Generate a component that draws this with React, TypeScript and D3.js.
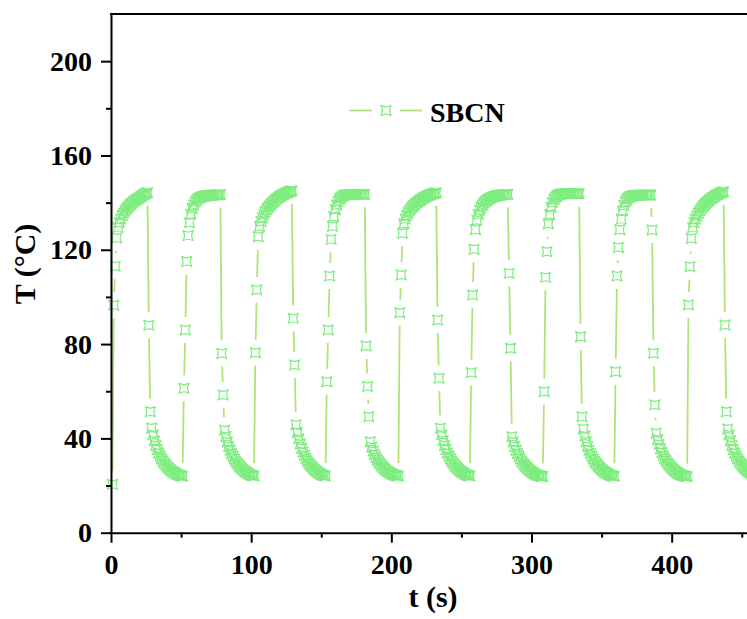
import React, { useEffect, useRef } from 'react';
import * as d3 from 'd3';

const WIDTH = 747;
const HEIGHT = 619;

// one reading per second, first reading at t = 1 s
const startTime = 1;
const sampleStep = 1;

// heating / cooling halves of each cycle (T in °C)
const heating1 = [20.5, 96.5, 113, 125, 129.5, 131.5, 133, 134.5, 135.5, 136.5, 137.3, 138, 138.7, 139.3, 139.8, 140.3, 140.8, 141.2, 141.6, 142, 142.4, 142.8, 143.2, 143.6, 144, 144.2];
const cooling1 = [88, 51.3, 44.4, 41.5, 39, 37, 35.3, 33.8, 32.5, 31.4, 30.4, 29.5, 28.7, 28, 27.4, 26.8, 26.3, 25.9, 25.5, 25.1, 24.8, 24.5, 24.3, 24.1, 23.9];
const heating2 = [61.3, 86, 115, 126, 131.5, 135, 137.5, 139, 140.2, 141, 141.6, 142, 142.3, 142.5, 142.7, 142.8, 142.9, 143, 143, 143.1, 143.1, 143.2, 143.2, 143.3, 143.3, 143.3, 143.4];
const cooling2 = [76, 58.4, 43.5, 40.8, 38.5, 36.6, 35, 33.6, 32.4, 31.3, 30.3, 29.4, 28.7, 28, 27.4, 26.8, 26.3, 25.8, 25.4, 25, 24.7, 24.4, 24.2, 24];
const heating3 = [76.3, 103, 125.5, 130, 132, 133.5, 134.8, 136, 137, 137.8, 138.5, 139.2, 139.8, 140.4, 141, 141.5, 142, 142.4, 142.8, 143.2, 143.5, 143.8, 144.1, 144.4, 144.6, 144.8, 145];
const cooling3 = [90.9, 71.1, 45.7, 42.5, 39.8, 37.6, 35.8, 34.2, 32.8, 31.6, 30.5, 29.6, 28.8, 28.1, 27.4, 26.8, 26.3, 25.8, 25.4, 25, 24.7, 24.4, 24.2, 24];
const heating4 = [64, 86, 108.9, 124.4, 130, 134, 137, 139, 140.5, 141.5, 142.2, 142.7, 143, 143.2, 143.3, 143.3, 143.3, 143.4, 143.4, 143.4, 143.4, 143.5, 143.5, 143.5, 143.5, 143.5, 143.5, 143.5];
const cooling4 = [79.2, 62, 49.2, 38.6, 36.3, 34.6, 33.2, 32, 30.9, 30, 29.2, 28.4, 27.7, 27.1, 26.6, 26.1, 25.7, 25.3, 25, 24.7, 24.5, 24.3, 24.1, 24];
const heating5 = [93.3, 109.3, 127, 131, 133, 134.5, 135.7, 136.7, 137.5, 138.2, 138.8, 139.4, 139.9, 140.4, 140.8, 141.2, 141.6, 142, 142.3, 142.6, 142.9, 143.2, 143.4, 143.6, 143.8, 144, 144.2];
const cooling5 = [90.2, 65.5, 44.3, 41.5, 39, 37, 35.3, 33.8, 32.5, 31.4, 30.4, 29.5, 28.7, 28, 27.4, 26.8, 26.3, 25.8, 25.4, 25, 24.7, 24.4, 24.2, 24];
const heating6 = [67.9, 100.8, 120.2, 128.5, 132.5, 135, 136.8, 138, 139, 139.8, 140.4, 140.9, 141.3, 141.7, 142, 142.3, 142.5, 142.7, 142.9, 143, 143.1, 143.2, 143.3, 143.4, 143.5, 143.5, 143.5];
const cooling6 = [110, 78.2, 40.7, 38.5, 36.6, 35, 33.6, 32.4, 31.3, 30.3, 29.4, 28.7, 28, 27.4, 26.8, 26.3, 25.8, 25.4, 25, 24.7, 24.4, 24.2, 24, 23.9, 23.8];
const heating7 = [59.8, 108.3, 119.2, 131, 135, 138, 140, 141.3, 142.2, 142.8, 143.2, 143.5, 143.6, 143.7, 143.7, 143.8, 143.8, 143.8, 143.8, 143.8, 143.8, 143.8, 143.8, 143.8, 143.8, 143.8];
const cooling7 = [83.1, 49.2, 44, 41, 38.6, 36.6, 35, 33.6, 32.4, 31.3, 30.3, 29.4, 28.7, 28, 27.4, 26.8, 26.3, 25.8, 25.4, 25, 24.7, 24.4, 24.2, 24, 23.9];
const heating8 = [68.3, 108.9, 121, 128.5, 133, 136.5, 138.8, 140.3, 141.3, 142, 142.4, 142.7, 142.9, 143, 143, 143.1, 143.1, 143.1, 143.2, 143.2, 143.2, 143.2, 143.2, 143.2, 143.2, 143.2];
const cooling8 = [128.4, 76.1, 54.2, 42.2, 39.5, 37.4, 35.6, 34, 32.7, 31.5, 30.5, 29.6, 28.8, 28.1, 27.4, 26.8, 26.3, 25.8, 25.4, 25, 24.7, 24.4, 24.2, 24, 23.9, 23.8];
const heating9 = [96.6, 112.8, 124.8, 129.5, 131.5, 133, 134.3, 135.5, 136.5, 137.4, 138.2, 138.9, 139.5, 140.1, 140.6, 141.1, 141.6, 142, 142.4, 142.8, 143.2, 143.5, 143.8, 144.1, 144.4, 144.6];
const cooling9 = [88.1, 51.3, 44, 41.5, 39, 37, 35.3, 33.8, 32.5, 31.4, 30.4, 29.5, 28.7, 28, 27.4, 26.8, 26.3, 25.8, 25.4, 25, 24.7, 24.4, 24.2];

const temperature = [
  ...heating1, ...cooling1, ...heating2, ...cooling2, ...heating3, ...cooling3,
  ...heating4, ...cooling4, ...heating5, ...cooling5, ...heating6, ...cooling6,
  ...heating7, ...cooling7, ...heating8, ...cooling8, ...heating9, ...cooling9,
];

const xTicks = [0, 100, 200, 300, 400];
const xMinorTicks = [50, 150, 250, 350, 450];
const yTicks = [0, 40, 80, 120, 160, 200];
const yMinorTicks = [20, 60, 100, 140, 180];
const seriesName = 'SBCN';

const FONT = '"Liberation Serif", "Times New Roman", serif';
const LINE_COLOR = '#b3e27a';
const SYMBOL_COLOR = '#7eec7e';
const GAP = 13; // line gap around each symbol

// rounded square with small corner points (origin style symbol)
const symbolPath =
  'M-5.2,-5.2 A10,10 0 0 0 5.2,-5.2 A10,10 0 0 0 5.2,5.2 A10,10 0 0 0 -5.2,5.2 A10,10 0 0 0 -5.2,-5.2 Z';

export default function App() {
  const ref = useRef<SVGSVGElement | null>(null);

  useEffect(() => {
    const svg = d3.select(ref.current);
    svg.selectAll('*').remove();

    const x = d3.scaleLinear().domain([0, 460]).range([111, 111 + 460 * 1.4017]);
    const y = d3.scaleLinear().domain([0, 220]).range([532.7, 14]);

    const points = temperature.map((v, i) => ({ t: startTime + i * sampleStep, v }));

    /* ========>> 连线 (with gaps) <<======== */
    const segs: [number, number, number, number][] = [];
    for (let i = 1; i < points.length; i++) {
      const x1 = x(points[i - 1].t);
      const y1 = y(points[i - 1].v);
      const x2 = x(points[i].t);
      const y2 = y(points[i].v);
      const d = Math.hypot(x2 - x1, y2 - y1);
      if (d <= GAP * 2) continue;
      const ux = (x2 - x1) / d;
      const uy = (y2 - y1) / d;
      segs.push([x1 + ux * GAP, y1 + uy * GAP, x2 - ux * GAP, y2 - uy * GAP]);
    }
    svg
      .append('g')
      .selectAll('line')
      .data(segs)
      .enter()
      .append('line')
      .attr('x1', (d) => d[0])
      .attr('y1', (d) => d[1])
      .attr('x2', (d) => d[2])
      .attr('y2', (d) => d[3])
      .attr('stroke', LINE_COLOR)
      .attr('stroke-width', 1.8);

    /* ========>> symbols <<======== */
    svg
      .append('g')
      .selectAll('path')
      .data(points)
      .enter()
      .append('path')
      .attr('d', symbolPath)
      .attr('transform', (d) => `translate(${x(d.t)},${y(d.v)})`)
      .attr('fill', 'none')
      .attr('stroke', SYMBOL_COLOR)
      .attr('stroke-width', 1.2);

    /* ========>> axes <<======== */
    const styleAxis = (g: any) => {
      g.attr('font-family', FONT).attr('font-size', 28).attr('font-weight', 'bold');
      g.selectAll('.domain').attr('stroke', '#000').attr('stroke-width', 2);
      g.selectAll('.tick line').attr('stroke', '#000').attr('stroke-width', 2);
      g.selectAll('.tick text').attr('fill', '#000');
    };

    const axisY = d3.axisLeft(y).tickValues(yTicks).tickSize(10).tickSizeOuter(0).tickPadding(9).tickFormat(d3.format('d'));
    svg.append('g').attr('transform', `translate(${x(0)},0)`).call(axisY).call(styleAxis);
    const axisYMinor = d3.axisLeft(y).tickValues(yMinorTicks).tickSize(5).tickFormat(() => '');
    svg.append('g').attr('transform', `translate(${x(0)},0)`).call(axisYMinor).call(styleAxis)
      .select('.domain').remove();

    const axisX = d3.axisBottom(x).tickValues(xTicks).tickSize(10).tickSizeOuter(0).tickPadding(11).tickFormat(d3.format('d'));
    svg.append('g').attr('transform', `translate(0,${y(0)})`).call(axisX).call(styleAxis);
    const axisXMinor = d3.axisBottom(x).tickValues(xMinorTicks).tickSize(5).tickFormat(() => '');
    svg.append('g').attr('transform', `translate(0,${y(0)})`).call(axisXMinor).call(styleAxis)
      .select('.domain').remove();

    // top frame line
    svg.append('line')
      .attr('x1', x(0) - 1).attr('x2', x(460))
      .attr('y1', y(220)).attr('y2', y(220))
      .attr('stroke', '#000').attr('stroke-width', 2);

    /* ========>> titles <<======== */
    svg.append('text')
      .attr('transform', 'translate(35,264) rotate(-90)')
      .attr('text-anchor', 'middle')
      .attr('font-family', FONT).attr('font-size', 30).attr('font-weight', 'bold')
      .text('T (°C)');
    svg.append('text')
      .attr('x', 433).attr('y', 607)
      .attr('text-anchor', 'middle')
      .attr('font-family', FONT).attr('font-size', 30).attr('font-weight', 'bold')
      .text('t (s)');

    /* ========>> legend <<======== */
    const legend = svg.append('g').attr('transform', 'translate(349,110.5)');
    legend.append('line').attr('x1', 0).attr('x2', 23).attr('stroke', LINE_COLOR).attr('stroke-width', 1.8);
    legend.append('line').attr('x1', 51).attr('x2', 73).attr('stroke', LINE_COLOR).attr('stroke-width', 1.8);
    legend.append('path').attr('d', symbolPath).attr('transform', 'translate(37,0)')
      .attr('fill', 'none').attr('stroke', SYMBOL_COLOR).attr('stroke-width', 1.2);
    legend.append('text')
      .attr('x', 81).attr('y', 11)
      .attr('font-family', FONT).attr('font-size', 28).attr('font-weight', 'bold')
      .text(seriesName);
  }, []);

  return (
    <svg
      ref={ref}
      width={WIDTH}
      height={HEIGHT}
      style={{ position: 'absolute', left: 0, top: 0, background: '#fff' }}
    />
  );
}
